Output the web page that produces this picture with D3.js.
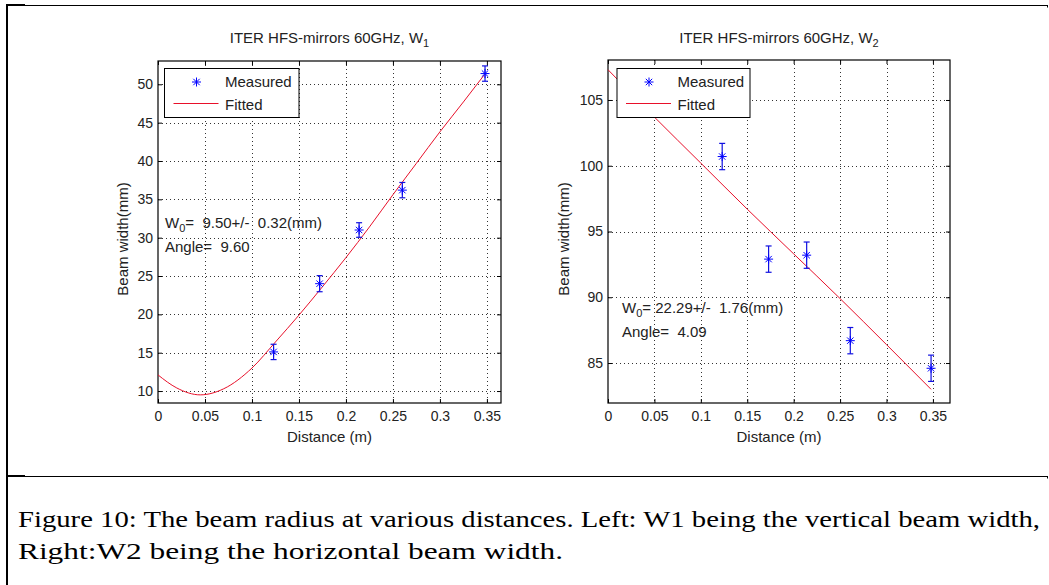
<!DOCTYPE html>
<html>
<head>
<meta charset="UTF-8">
<script src="https://d3js.org/d3.v7.min.js"></script>
<style>
    body {
        margin: 0;
        background-color: #fff;
    }

    svg text {
        font-family: 'Liberation Sans', Arial, sans-serif;
        fill: #222;
    }

    svg text.caption {
        font-family: 'Liberation Serif', 'Times New Roman', serif;
        fill: #000;
    }
</style>
</head>
<body>
<svg id="fig" width="1049" height="585"></svg>
<script>
    // shared ticks
    var distTicks = [0, 0.05, 0.1, 0.15, 0.2, 0.25, 0.3, 0.35];
    var w1Ticks = [10, 15, 20, 25, 30, 35, 40, 45, 50];
    var w2Ticks = [85, 90, 95, 100, 105];

    // W1 measured points (m, mm, +/- mm)
    var w1Dist = [0.123, 0.172, 0.214, 0.260, 0.348];
    var w1Meas = [15.1, 24.0, 31.0, 36.2, 51.4];
    var w1Err = [1.0, 1.05, 0.95, 1.0, 1.0];

    // W1 fitted curve
    var w1FitDist = [0, 0.02, 0.045, 0.07, 0.1, 0.125, 0.15, 0.175, 0.2, 0.225, 0.25, 0.275, 0.3, 0.325, 0.347];
    var w1FitVal = [12.1, 10.4, 9.5, 10.3, 13.0, 16.4, 19.9, 23.6, 27.4, 31.4, 35.6, 39.7, 43.8, 47.7, 51.2];

    // W2 measured points
    var w2Dist = [0.123, 0.173, 0.214, 0.261, 0.348];
    var w2Meas = [100.7, 92.9, 93.2, 86.7, 84.6];
    var w2Err = [1.0, 1.0, 1.0, 1.0, 1.0];

    // W2 fitted line
    var w2FitDist = [0, 0.05, 0.1, 0.15, 0.2, 0.25, 0.3, 0.348];
    var w2FitVal = [107.3, 103.7, 100.2, 96.7, 93.3, 89.9, 86.4, 83.0];

    var svg = d3.select("#fig");

    // outer frame of the figure
    var frame = svg.append("g").attr("stroke", "#000");
    frame.append("line").attr("x1", 7).attr("x2", 7).attr("y1", 4).attr("y2", 585).attr("stroke-width", 2);
    frame.append("line").attr("x1", 7).attr("x2", 1048).attr("y1", 5.5).attr("y2", 5.5).attr("stroke-width", 1);
    frame.append("line").attr("x1", 7).attr("x2", 25).attr("y1", 5).attr("y2", 5).attr("stroke-width", 2);
    frame.append("line").attr("x1", 1047.5).attr("x2", 1047.5).attr("y1", 5).attr("y2", 7.5).attr("stroke-width", 1);
    frame.append("line").attr("x1", 7).attr("x2", 1048).attr("y1", 476.5).attr("y2", 476.5).attr("stroke-width", 1);
    frame.append("line").attr("x1", 7).attr("x2", 25).attr("y1", 476).attr("y2", 476).attr("stroke-width", 2);
    frame.append("line").attr("x1", 1047.5).attr("x2", 1047.5).attr("y1", 476).attr("y2", 478.5).attr("stroke-width", 1);

    function star(g, cx, cy) {
        var a = 4.5, b = 3.2;
        var p = "M" + (cx - a) + "," + cy + "H" + (cx + a) +
            "M" + cx + "," + (cy - a) + "V" + (cy + a) +
            "M" + (cx - b) + "," + (cy - b) + "L" + (cx + b) + "," + (cy + b) +
            "M" + (cx - b) + "," + (cy + b) + "L" + (cx + b) + "," + (cy - b);
        g.append("path").attr("d", p).attr("stroke", "#0000ff").attr("stroke-width", 1).attr("fill", "none");
    }

    function panel(o) {
        var x = d3.scaleLinear().domain(o.xDomain).range([o.left, o.right]);
        var y = d3.scaleLinear().domain(o.yDomain).range([o.bottom, o.top]);
        var g = svg.append("g");

        // dotted grid
        g.append("g").selectAll("line").data(distTicks.filter(function (d) { return d > 0; })).enter()
            .append("line")
            .attr("x1", function (d) { return Math.round(x(d)) + 0.5; })
            .attr("x2", function (d) { return Math.round(x(d)) + 0.5; })
            .attr("y1", o.top).attr("y2", o.bottom)
            .attr("stroke", "#333").attr("stroke-dasharray", "1,3");
        g.append("g").selectAll("line").data(o.yTicks).enter()
            .append("line")
            .attr("y1", function (d) { return Math.round(y(d)) + 0.5; })
            .attr("y2", function (d) { return Math.round(y(d)) + 0.5; })
            .attr("x1", o.left).attr("x2", o.right)
            .attr("stroke", "#333").attr("stroke-dasharray", "1,3");

        // axes, ticks pointing in
        var fmt = function (d) { return String(d); };
        var ax = g.append("g").attr("transform", "translate(0," + o.bottom + ")")
            .call(d3.axisBottom(x).tickValues(distTicks).tickFormat(fmt).tickSize(-4).tickPadding(8.5));
        var ay = g.append("g").attr("transform", "translate(" + o.left + ",0)")
            .call(d3.axisLeft(y).tickValues(o.yTicks).tickFormat(fmt).tickSize(-4).tickPadding(5));
        var at = g.append("g").attr("transform", "translate(0," + o.top + ")")
            .call(d3.axisTop(x).tickValues(distTicks).tickFormat("").tickSize(-4));
        var ar = g.append("g").attr("transform", "translate(" + o.right + ",0)")
            .call(d3.axisRight(y).tickValues(o.yTicks).tickFormat("").tickSize(-4));
        [ax, ay, at, ar].forEach(function (a) {
            a.select(".domain").remove();
            a.selectAll("line").attr("stroke", "#000");
            a.selectAll("text").style("font-size", "14px").attr("fill", "#222");
        });

        g.append("rect").attr("x", o.left).attr("y", o.top)
            .attr("width", o.right - o.left).attr("height", o.bottom - o.top)
            .attr("fill", "none").attr("stroke", "#000").attr("stroke-width", 1.2);

        // fitted curve
        var line = d3.line()
            .x(function (d) { return x(d[0]); })
            .y(function (d) { return y(d[1]); })
            .curve(d3.curveMonotoneX);
        g.append("path")
            .datum(o.fitDist.map(function (d, i) { return [d, o.fitVal[i]]; }))
            .attr("d", line).attr("fill", "none").attr("stroke", "#e8102a").attr("stroke-width", 1);

        // measured points with error bars
        o.dist.forEach(function (d, i) {
            var cx = x(d), v = o.meas[i], e = o.err[i];
            var eg = g.append("g").attr("stroke", "#1010e0").attr("stroke-width", 1.2);
            eg.append("line").attr("x1", cx).attr("x2", cx).attr("y1", y(v - e)).attr("y2", y(v + e));
            eg.append("line").attr("x1", cx - 3).attr("x2", cx + 3).attr("y1", y(v - e)).attr("y2", y(v - e));
            eg.append("line").attr("x1", cx - 3).attr("x2", cx + 3).attr("y1", y(v + e)).attr("y2", y(v + e));
            star(g, cx, y(v));
        });

        // legend
        var lg = g.append("g").attr("transform", "translate(" + o.legX + "," + o.legY + ")");
        lg.append("rect").attr("width", o.legW).attr("height", 49)
            .attr("fill", "#fff").attr("stroke", "#000").attr("stroke-width", 1);
        star(lg, 32, 13.5);
        lg.append("line").attr("x1", 9).attr("x2", 54).attr("y1", 35).attr("y2", 35)
            .attr("stroke", "#e8102a").attr("stroke-width", 1);
        lg.append("text").attr("x", 60.5).attr("y", 18.5).style("font-size", "15px").text("Measured");
        lg.append("text").attr("x", 60.5).attr("y", 41).style("font-size", "15px").text("Fitted");

        // title
        var t = g.append("text").attr("x", (o.left + o.right) / 2).attr("y", 42.5)
            .attr("text-anchor", "middle").style("font-size", "15px");
        t.append("tspan").text("ITER HFS-mirrors 60GHz, W");
        t.append("tspan").attr("dy", 4).style("font-size", "11px").text(o.sub);

        // axis labels
        g.append("text").attr("x", (o.left + o.right) / 2).attr("y", 442)
            .attr("text-anchor", "middle").style("font-size", "15px").text("Distance (m)");
        g.append("text").attr("transform", "translate(" + o.yLabX + ",239) rotate(-90)")
            .attr("text-anchor", "middle").style("font-size", "15px").text("Beam width(mm)");

        // fit annotation
        var a1 = g.append("text").attr("x", o.annX).attr("y", o.annY)
            .style("font-size", "15px").style("white-space", "pre");
        a1.append("tspan").text("W");
        a1.append("tspan").attr("dy", 4).style("font-size", "11px").text("0");
        a1.append("tspan").attr("dy", -4).text(o.w0Text);
        g.append("text").attr("x", o.annX).attr("y", o.annY + 23.5).style("white-space", "pre")
            .style("font-size", "15px").text(o.angleText);
    }

    panel({
        left: 158, right: 501, top: 61, bottom: 403,
        xDomain: [0, 0.365], yDomain: [8.44, 53.04], yTicks: w1Ticks,
        dist: w1Dist, meas: w1Meas, err: w1Err, fitDist: w1FitDist, fitVal: w1FitVal,
        legX: 164.5, legY: 68.5, legW: 134.5, sub: "1", yLabX: 128,
        annX: 165, annY: 228, w0Text: "=  9.50+/-  0.32(mm)", angleText: "Angle=  9.60"
    });

    panel({
        left: 608, right: 950, top: 60, bottom: 403,
        xDomain: [0, 0.3684], yDomain: [81.96, 108.04], yTicks: w2Ticks,
        dist: w2Dist, meas: w2Meas, err: w2Err, fitDist: w2FitDist, fitVal: w2FitVal,
        legX: 617, legY: 68.5, legW: 133, sub: "2", yLabX: 569,
        annX: 622, annY: 313, w0Text: "= 22.29+/-  1.76(mm)", angleText: "Angle=  4.09"
    });

    // caption
    svg.append("text").attr("class", "caption").attr("x", 18).attr("y", 527)
        .attr("textLength", 1022).attr("lengthAdjust", "spacingAndGlyphs")
        .style("font-size", "24px")
        .text("Figure 10: The beam radius at various distances. Left: W1 being the vertical beam width,");
    svg.append("text").attr("class", "caption").attr("x", 18).attr("y", 559)
        .attr("textLength", 545).attr("lengthAdjust", "spacingAndGlyphs")
        .style("font-size", "24px")
        .text("Right:W2 being the horizontal beam width.");
</script>
</body>
</html>
